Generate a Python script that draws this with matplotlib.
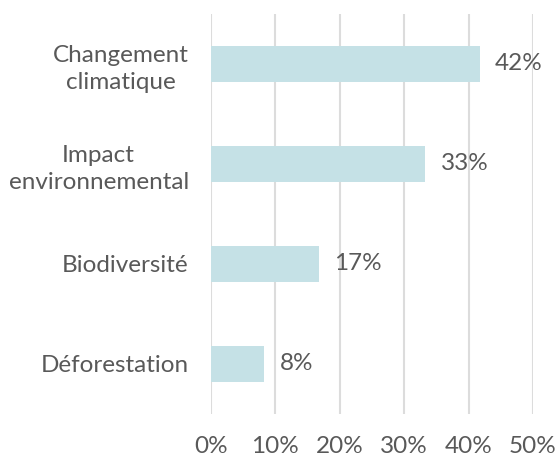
import matplotlib
matplotlib.use("Agg")
import matplotlib.pyplot as plt
from matplotlib.ticker import FuncFormatter

categories = ["Changement\nclimatique", "Impact\nenvironnemental", "Biodiversité", "Déforestation"]
values = [41.7, 33.3, 16.7, 8.3]
labels = ["42%", "33%", "17%", "8%"]
xticks = [0, 10, 20, 30, 40, 50]

plt.rcParams['font.family'] = ['Lato', 'DejaVu Sans']
text_color = "#595959"
bar_color = "#c5e1e6"

fig = plt.figure(figsize=(5.6, 4.57), dpi=100)
ax = fig.add_axes([211/560, 43/457, (533-211)/560, 400/457])

y = list(range(len(categories)))
ax.barh(y, values, height=0.36, color=bar_color, zorder=2)
for yi, v, lab in zip(y, values, labels):
    ax.text(v + 2.4, yi, lab, va='center', ha='left', fontsize=17.5, color=text_color)

ax.set_xlim(0, 50)
ax.set_ylim(3.5, -0.5)
ax.set_xticks(xticks)
ax.xaxis.set_major_formatter(FuncFormatter(lambda v, p: f"{int(v)}%"))
ax.set_yticks(y)
ax.set_yticklabels(categories)
for t in ax.get_yticklabels():
    t.set_multialignment('center')
    t.set_linespacing(1.35)
ax.tick_params(axis='both', length=0, labelsize=17.5, labelcolor=text_color)
ax.tick_params(axis='x', pad=16)
ax.tick_params(axis='y', pad=16)
ax.grid(axis='x', color='#dcdcdc', linewidth=1.5, zorder=0)
ax.set_axisbelow(True)
for s in ax.spines.values():
    s.set_visible(False)

fig.savefig("out.png", dpi=100)
